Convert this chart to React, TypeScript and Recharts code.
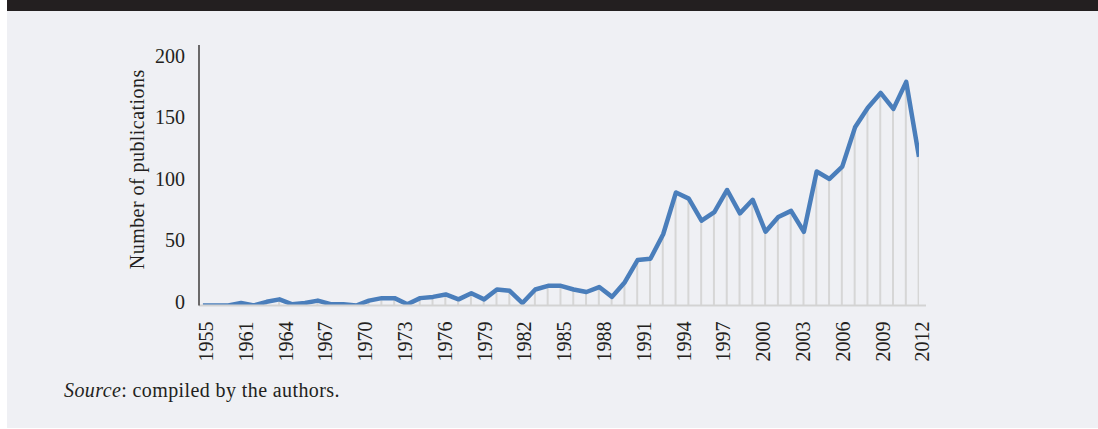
import { ComposedChart, Bar, Line, XAxis, YAxis } from 'recharts'

const INK = '#231f20'
const LINE_BLUE = '#4a7ebb'
const DROP_GREY = '#d6d6d6'
const FONT = '"Liberation Serif", "Times New Roman", serif'

// publications per point (57 points, 1955 .. 2012)
const VALUES = [
  0, 0, 0, 2, 0, 3, 5, 1, 2, 4, 1, 1, 0, 4, 6, 6, 1, 6, 7, 9,
  5, 10, 5, 13, 12, 2, 13, 16, 16, 13, 11, 15, 7, 19, 37, 38, 58, 92, 87, 69,
  76, 94, 75, 86, 60, 72, 77, 60, 109, 103, 113, 145, 161, 173, 160, 182, 121,
]

const YEAR_LABELS = [
  '1955', '1961', '1964', '1967', '1970', '1973', '1976', '1979', '1982', '1985',
  '1988', '1991', '1994', '1997', '2000', '2003', '2006', '2009', '2012',
]

const Y_TICKS = [0, 50, 100, 150, 200]

const data = VALUES.map((v, i) => ({ idx: i, v }))
const lastIdx = VALUES.length - 1
const xTicks = YEAR_LABELS.map((_, i) => (i * lastIdx) / (YEAR_LABELS.length - 1))

function YearTick({ x, y, payload }: any) {
  const ax = x + 3.3
  const ay = y + 8
  return (
    <text
      x={ax}
      y={ay}
      dy="0.35em"
      transform={`rotate(-90, ${ax}, ${ay})`}
      textAnchor="end"
      fill={INK}
      fontSize={20}
      fontFamily={FONT}
    >
      {YEAR_LABELS[payload.index]}
    </text>
  )
}

function CountTick({ x, y, payload }: any) {
  return (
    <text
      x={x - 6}
      y={y - 4}
      dy="0.35em"
      textAnchor="end"
      fill={INK}
      fontSize={20}
      fontFamily={FONT}
    >
      {payload.value}
    </text>
  )
}

function YLabel({ viewBox }: any) {
  const cx = viewBox.x - 2.5
  const cy = viewBox.y + viewBox.height / 2 - 6
  return (
    <text
      x={cx}
      y={cy}
      dy="0.35em"
      transform={`rotate(-90, ${cx}, ${cy})`}
      textAnchor="middle"
      fill={INK}
      fontSize={20}
      letterSpacing={0.45}
      fontFamily={FONT}
    >
      Number of publications
    </text>
  )
}

export default function App() {
  return (
    <div style={{ position: 'absolute', left: 0, top: 0, width: 1098, height: 429, background: '#fff', fontFamily: FONT }}>
      <div style={{ position: 'absolute', left: 7, top: 0, width: 1091, height: 11, background: INK }} />
      <div style={{ position: 'absolute', left: 7, top: 11, width: 1091, height: 417, background: '#eff0f4' }} />
      <div style={{ position: 'absolute', left: 0, top: 0 }}>
        <ComposedChart
          width={1098}
          height={429}
          data={data}
          margin={{ top: 45, right: 172, left: 139, bottom: 63.5 }}
        >
          <XAxis
            type="number"
            dataKey="idx"
            domain={[0, lastIdx]}
            ticks={xTicks}
            interval={0}
            allowDataOverflow
            padding={{ left: 3.7, right: 7 }}
            height={60}
            axisLine={{ stroke: '#d3d3d3', strokeWidth: 2 }}
            tickLine={false}
            tick={<YearTick />}
          />
          <YAxis
            type="number"
            domain={[0, 212]}
            ticks={Y_TICKS}
            allowDataOverflow
            width={60}
            axisLine={{ stroke: INK, strokeWidth: 1.3 }}
            tickLine={false}
            tick={<CountTick />}
            label={{ content: <YLabel /> }}
          />
          <Bar dataKey="v" barSize={2} fill={DROP_GREY} isAnimationActive={false} />
          <Line
            type="linear"
            dataKey="v"
            stroke={LINE_BLUE}
            strokeWidth={4.5}
            strokeLinejoin="round"
            dot={false}
            activeDot={false}
            isAnimationActive={false}
          />
        </ComposedChart>
      </div>
      <svg style={{ position: 'absolute', left: 0, top: 0 }} width={1098} height={429}>
        <text x={64} y={397.3} fill={INK} fontSize={20} letterSpacing={0.4} fontFamily={FONT}>
          <tspan fontStyle="italic">Source</tspan>: compiled by the authors.
        </text>
      </svg>
    </div>
  )
}
